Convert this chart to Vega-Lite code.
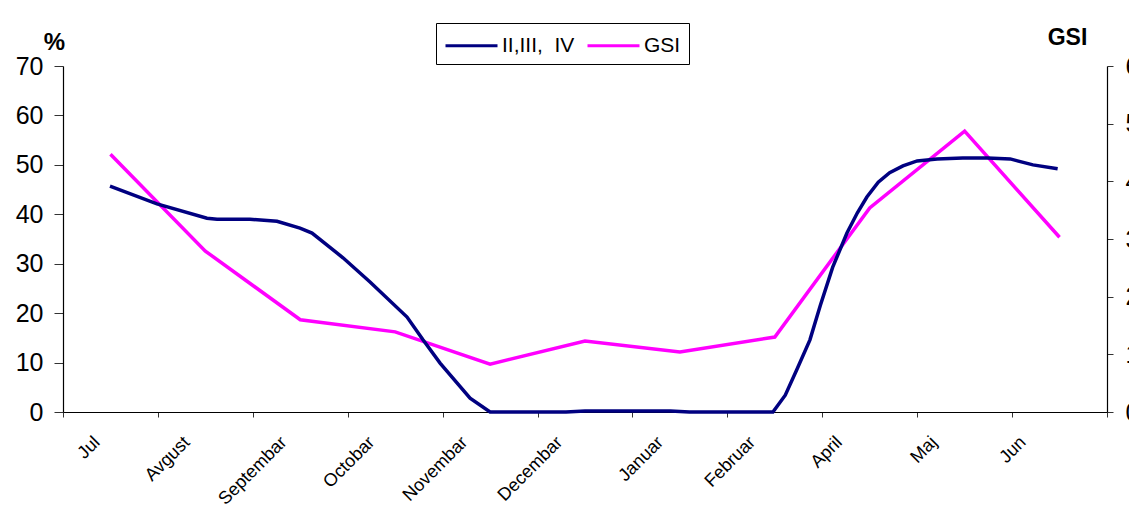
{
  "$schema": "https://vega.github.io/schema/vega-lite/v6.json",
  "width": 1044,
  "height": 346,
  "autosize": {"type": "none"},
  "padding": {"left": 63, "top": 66, "right": 22, "bottom": 99},
  "config": {
    "view": {"stroke": null},
    "font": "Liberation Sans",
    "axis": {"grid": false, "domainColor": "black", "tickColor": "#333333", "labelColor": "black", "titleColor": "black", "domainWidth": 1.2}
  },
  "datasets": {
    "gsi": [
      {"month": "Jul", "gsi": 4.47, "series": "GSI"},
      {"month": "Avgust", "gsi": 2.79, "series": "GSI"},
      {"month": "Septembar", "gsi": 1.6, "series": "GSI"},
      {"month": "Octobar", "gsi": 1.39, "series": "GSI"},
      {"month": "Novembar", "gsi": 0.83, "series": "GSI"},
      {"month": "Decembar", "gsi": 1.23, "series": "GSI"},
      {"month": "Januar", "gsi": 1.04, "series": "GSI"},
      {"month": "Februar", "gsi": 1.3, "series": "GSI"},
      {"month": "April", "gsi": 3.54, "series": "GSI"},
      {"month": "Maj", "gsi": 4.87, "series": "GSI"},
      {"month": "Jun", "gsi": 3.03, "series": "GSI"}
    ],
    "blue": [
      {"t": 0.495, "pct": 45.7, "series": "II,III, \u00a0IV"},
      {"t": 0.99, "pct": 42.1, "series": "II,III, \u00a0IV"},
      {"t": 1.517, "pct": 39.2, "series": "II,III, \u00a0IV"},
      {"t": 1.623, "pct": 39.0, "series": "II,III, \u00a0IV"},
      {"t": 1.97, "pct": 39.0, "series": "II,III, \u00a0IV"},
      {"t": 2.255, "pct": 38.6, "series": "II,III, \u00a0IV"},
      {"t": 2.497, "pct": 37.2, "series": "II,III, \u00a0IV"},
      {"t": 2.624, "pct": 36.2, "series": "II,III, \u00a0IV"},
      {"t": 2.95, "pct": 31.2, "series": "II,III, \u00a0IV"},
      {"t": 3.235, "pct": 26.3, "series": "II,III, \u00a0IV"},
      {"t": 3.625, "pct": 19.2, "series": "II,III, \u00a0IV"},
      {"t": 3.793, "pct": 14.6, "series": "II,III, \u00a0IV"},
      {"t": 3.973, "pct": 9.9, "series": "II,III, \u00a0IV"},
      {"t": 4.289, "pct": 2.8, "series": "II,III, \u00a0IV"},
      {"t": 4.5, "pct": 0, "series": "II,III, \u00a0IV"},
      {"t": 5.3, "pct": 0, "series": "II,III, \u00a0IV"},
      {"t": 5.5, "pct": 0.2, "series": "II,III, \u00a0IV"},
      {"t": 6.4, "pct": 0.2, "series": "II,III, \u00a0IV"},
      {"t": 6.6, "pct": 0, "series": "II,III, \u00a0IV"},
      {"t": 7.48, "pct": 0, "series": "II,III, \u00a0IV"},
      {"t": 7.61, "pct": 3.4, "series": "II,III, \u00a0IV"},
      {"t": 7.73, "pct": 8.5, "series": "II,III, \u00a0IV"},
      {"t": 7.87, "pct": 14.6, "series": "II,III, \u00a0IV"},
      {"t": 7.98, "pct": 21.6, "series": "II,III, \u00a0IV"},
      {"t": 8.11, "pct": 29.3, "series": "II,III, \u00a0IV"},
      {"t": 8.26, "pct": 36.2, "series": "II,III, \u00a0IV"},
      {"t": 8.37, "pct": 40.3, "series": "II,III, \u00a0IV"},
      {"t": 8.47, "pct": 43.5, "series": "II,III, \u00a0IV"},
      {"t": 8.59, "pct": 46.5, "series": "II,III, \u00a0IV"},
      {"t": 8.71, "pct": 48.4, "series": "II,III, \u00a0IV"},
      {"t": 8.85, "pct": 49.8, "series": "II,III, \u00a0IV"},
      {"t": 9.0, "pct": 50.8, "series": "II,III, \u00a0IV"},
      {"t": 9.21, "pct": 51.2, "series": "II,III, \u00a0IV"},
      {"t": 9.48, "pct": 51.4, "series": "II,III, \u00a0IV"},
      {"t": 9.74, "pct": 51.4, "series": "II,III, \u00a0IV"},
      {"t": 9.98, "pct": 51.2, "series": "II,III, \u00a0IV"},
      {"t": 10.22, "pct": 50.0, "series": "II,III, \u00a0IV"},
      {"t": 10.48, "pct": 49.2, "series": "II,III, \u00a0IV"}
    ]
  },
  "layer": [
    {
      "data": {"name": "gsi"},
      "mark": {"type": "line", "strokeWidth": 3.5},
      "encoding": {
        "x": {
          "field": "month", "type": "ordinal", "sort": null,
          "scale": {"type": "band", "paddingInner": 0, "paddingOuter": 0},
          "bandPosition": 0.5,
          "axis": {"title": null, "tickBand": "extent", "labelAngle": -45, "labelFontSize": 18, "tickSize": 5, "labelPadding": 16,
                   "labelOffset": {"expr": "[-20,-25,-23,-30,-32,-32,-26,-29,-37,-37,-43][indexof(['Jul','Avgust','Septembar','Octobar','Novembar','Decembar','Januar','Februar','April','Maj','Jun'], datum.value)]"},
                   "domainColor": "black"}
        },
        "y": {
          "field": "gsi", "type": "quantitative",
          "scale": {"domain": [0, 6], "nice": false},
          "axis": {"orient": "right", "values": [0, 1, 2, 3, 4, 5, 6], "labelFontSize": 25, "tickSize": 6, "labelPadding": 12, "labelBaseline": "middle",
                   "title": "GSI", "titleAngle": 0, "titleFontSize": 23, "titleFontWeight": "bold", "titleAlign": "center", "titleBaseline": "middle", "titleX": -40, "titleY": -29}
        },
        "color": {
          "field": "series", "type": "nominal",
          "scale": {"domain": ["II,III, \u00a0IV", "GSI"], "range": ["#000080", "#FF00FF"]},
          "legend": {"title": null, "orient": "none", "legendX": 373, "legendY": -43, "direction": "horizontal", "strokeColor": "black", "padding": 8,
                     "symbolType": "M-1,0H3", "symbolSize": 676, "symbolStrokeWidth": 3, "labelFontSize": 21, "labelColor": "black", "labelOffset": 29, "columnPadding": 6, "fillColor": "white"}
        }
      }
    },
    {
      "data": {"name": "blue"},
      "mark": {"type": "line", "strokeWidth": 3.5},
      "encoding": {
        "x": {"field": "t", "type": "quantitative", "scale": {"domain": [0, 11], "nice": false, "zero": false}, "axis": null},
        "y": {
          "field": "pct", "type": "quantitative",
          "scale": {"domain": [0, 70], "nice": false},
          "axis": {"orient": "left", "values": [0, 10, 20, 30, 40, 50, 60, 70], "labelFontSize": 25, "tickSize": 9, "labelPadding": 11,
                   "title": "%", "titleAngle": 0, "titleFontSize": 24, "titleFontWeight": "bold", "titleAlign": "center", "titleBaseline": "middle", "titleX": -9, "titleY": -24}
        },
        "color": {"field": "series", "type": "nominal"}
      }
    }
  ],
  "resolve": {"scale": {"x": "independent", "y": "independent"}}
}
